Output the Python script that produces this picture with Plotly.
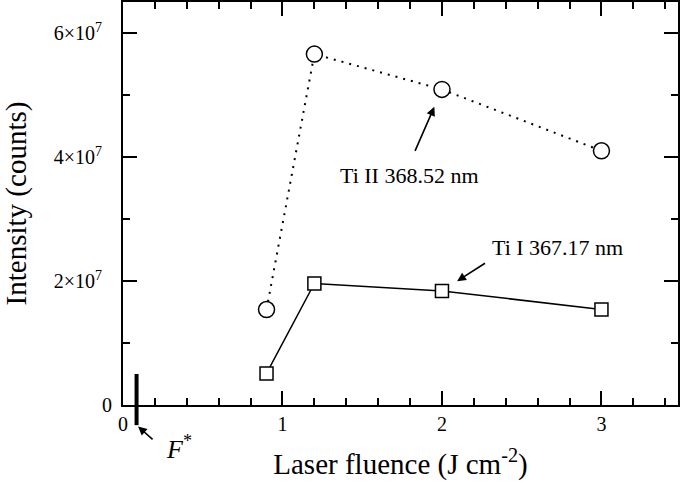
import plotly.graph_objects as go

# ---- data ----
fluence = [0.9, 1.2, 2.0, 3.0]                       # J cm^-2
ti_ii_368 = [1.54e7, 5.66e7, 5.09e7, 4.10e7]         # Ti II 368.52 nm (circles, dotted)
ti_i_367 = [0.51e7, 1.96e7, 1.84e7, 1.54e7]          # Ti I 367.17 nm (squares, solid)
F_STAR = 0.085                                       # threshold fluence F*
F_STAR_BAR_TOP = 0.5e7                               # top of the F* bar

NB = "\u00a0"
x_tickvals = [0, 1, 2, 3]
x_ticktext = ["0", "1", "2", "3"]
y_tickvals = [0, 2e7, 4e7, 6e7]
y_ticktext = ["0" + NB, "2×10<sup>7</sup>" + NB * 3,
              "4×10<sup>7</sup>" + NB * 3, "6×10<sup>7</sup>" + NB * 3]
X_RANGE = [0, 3.48]
Y_RANGE = [0, 6.5e7]

FONT = "Liberation Serif"

fig = go.Figure()
fig.add_trace(go.Scatter(
    x=fluence, y=ti_ii_368, mode="lines+markers", name="Ti II 368.52 nm",
    line=dict(color="black", width=2, dash="2px,6px"),
    marker=dict(symbol="circle", size=16, color="white",
                line=dict(color="black", width=1.5)),
    cliponaxis=False,
))
fig.add_trace(go.Scatter(
    x=fluence, y=ti_i_367, mode="lines+markers", name="Ti I 367.17 nm",
    line=dict(color="black", width=1.5),
    marker=dict(symbol="square", size=13, color="white",
                line=dict(color="black", width=1.5)),
    cliponaxis=False,
))

axis_common = dict(
    showline=True, linecolor="black", linewidth=2, mirror="ticks",
    ticks="inside", ticklen=14, tickwidth=1.5, tickcolor="black",
    showgrid=False, zeroline=False,
    tickfont=dict(family=FONT, size=20, color="black"),
)

fig.update_layout(
    width=680, height=490,
    margin=dict(l=123, r=0, t=2, b=85),
    paper_bgcolor="white", plot_bgcolor="white",
    showlegend=False,
    font=dict(family=FONT, size=20, color="black"),
    xaxis=dict(
        range=X_RANGE, tickmode="array", tickvals=x_tickvals, ticktext=x_ticktext,
        minor=dict(tickmode="linear", tick0=0, dtick=0.2, ticks="inside",
                   ticklen=7, tickwidth=1.5, tickcolor="black", showgrid=False),
        title=dict(text="Laser fluence (J cm<sup>-2</sup>)",
                   font=dict(family=FONT, size=29, color="black"), standoff=20),
        **axis_common,
    ),
    yaxis=dict(
        range=Y_RANGE, tickmode="array", tickvals=y_tickvals, ticktext=y_ticktext,
        minor=dict(tickmode="linear", tick0=0, dtick=1e7, ticks="inside",
                   ticklen=7, tickwidth=1.5, tickcolor="black", showgrid=False),
        title=dict(text="Intensity (counts)",
                   font=dict(family=FONT, size=29, color="black"), standoff=22),
        **axis_common,
    ),
)

# F* bar (extends below the x axis)
fig.add_shape(type="line", xref="x", yref="paper",
              x0=F_STAR, x1=F_STAR, y0=-0.05, y1=F_STAR_BAR_TOP / Y_RANGE[1],
              line=dict(color="black", width=4))

arrow = dict(showarrow=True, arrowhead=2, arrowsize=1.1, arrowwidth=1.6,
             arrowcolor="black", text=" ", font=dict(size=2))

annotations = [
    # Ti II arrow + label
    dict(x=fluence[2], y=ti_ii_368[2], xref="x", yref="y", ax=-28, ay=64,
         standoff=19, **arrow),
    dict(x=fluence[2], y=ti_ii_368[2], xref="x", yref="y", showarrow=False,
         text="Ti II 368.52 nm", xshift=-32, yshift=-86,
         xanchor="center", yanchor="middle",
         font=dict(family=FONT, size=22, color="black")),
    # Ti I arrow + label
    dict(x=fluence[2], y=ti_i_367[2], xref="x", yref="y", ax=45, ay=-29,
         standoff=18, **arrow),
    dict(x=fluence[2], y=ti_i_367[2], xref="x", yref="y", showarrow=False,
         text="Ti I 367.17 nm", xshift=116, yshift=43,
         xanchor="center", yanchor="middle",
         font=dict(family=FONT, size=22, color="black")),
    # F* arrow + label
    dict(x=F_STAR, y=-0.05, xref="x", yref="paper", ax=18, ay=16,
         standoff=2, **arrow),
    dict(x=F_STAR, y=-0.05, xref="x", yref="paper", showarrow=False,
         text="<i>F</i><sup>*</sup>", xshift=42, yshift=-22,
         xanchor="center", yanchor="middle",
         font=dict(family=FONT, size=26, color="black")),
]
fig.update_layout(annotations=annotations)

fig.write_html("out.html", config={"displayModeBar": False},
               post_script="document.body.style.margin='0px';")
